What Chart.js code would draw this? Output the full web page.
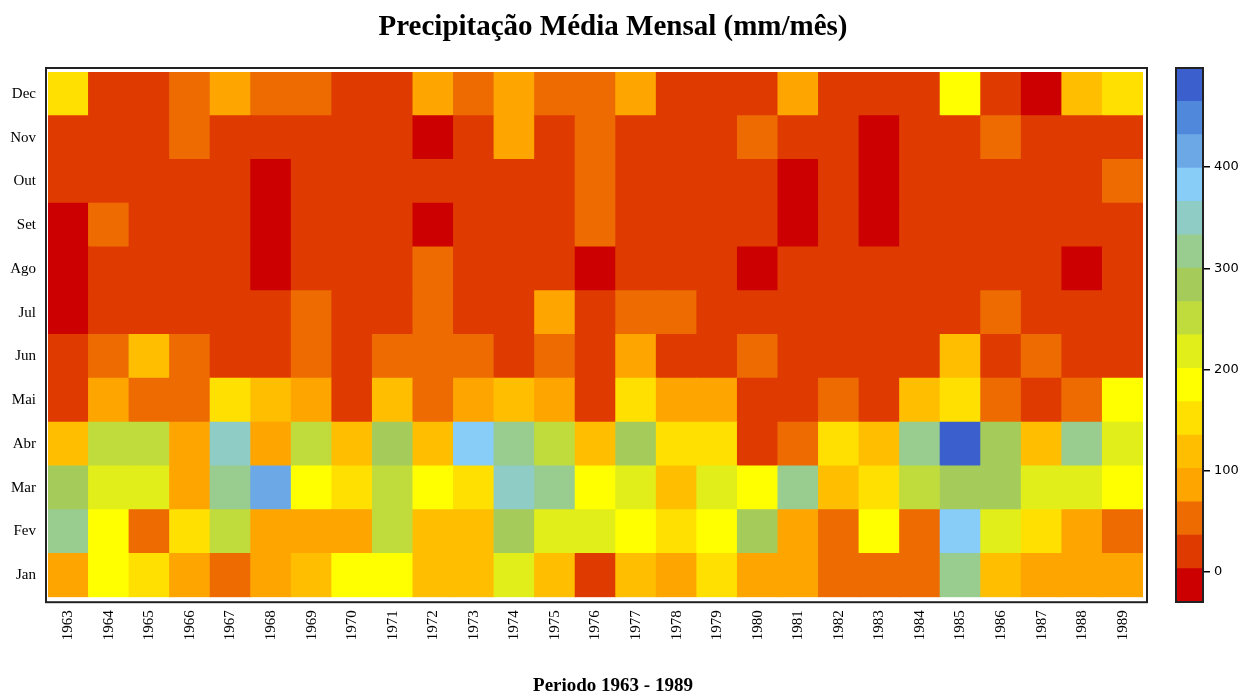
<!DOCTYPE html>
<html>
<head>
<meta charset="utf-8">
<title>Precipitação Média Mensal</title>
<script src="https://cdn.jsdelivr.net/npm/chart.js@4.4.1/dist/chart.umd.min.js"></script>
<style>
  html, body { margin: 0; padding: 0; background: #fff; }
  #wrap { position: relative; width: 1242px; height: 697px; }
  #heat { position: absolute; left: 0; top: 0; }
  #key { position: absolute; left: 1160px; top: 0; }
</style>
</head>
<body>
<div id="wrap">
  <canvas id="heat" width="1242" height="697"></canvas>
  <canvas id="key" width="82" height="697"></canvas>
</div>
<script>
// dados: precipitação média mensal (mm/mês), 1963 - 1989
const years = ['1963','1964','1965','1966','1967','1968','1969','1970','1971','1972','1973','1974','1975',
    '1976','1977','1978','1979','1980','1981','1982','1983','1984','1985','1986','1987','1988','1989'];
const months = ['Jan','Fev','Mar','Abr','Mai','Jun','Jul','Ago','Set','Out','Nov','Dec'];

const jan = [88, 182, 151, 92, 58, 84, 118, 190, 176, 124, 112, 214, 121, 27, 126, 90, 148, 95, 86, 61, 52, 55, 312, 116, 82, 91, 94];
const fev = [318, 188, 49, 147, 246, 79, 85, 97, 252, 114, 119, 281, 219, 212, 184, 154, 193, 276, 81, 57, 179, 63, 384, 222, 141, 87, 46];
const mar = [284, 217, 224, 93, 309, 415, 186, 158, 255, 181, 144, 349, 316, 192, 209, 127, 226, 174, 321, 108, 162, 244, 288, 279, 213, 221, 197];
const abr = [122, 249, 258, 96, 347, 89, 241, 113, 286, 129, 388, 305, 261, 117, 291, 143, 156, 31, 64, 159, 110, 314, 482, 273, 125, 323, 206];
const mai = [24, 83, 53, 47, 152, 115, 91, 19, 123, 59, 80, 128, 94, 14, 146, 86, 78, 22, 29, 56, 12, 111, 157, 44, 26, 51, 183];
const jun = [18, 54, 119, 48, 9, 11, 42, 15, 57, 50, 61, 21, 45, 8, 77, 20, 16, 52, 13, 7, 17, 25, 109, 28, 60, 10, 6];
const jul = [1, 13, 9, 12, 6, 8, 44, 7, 10, 46, 11, 15, 79, 9, 49, 42, 14, 8, 10, 6, 9, 7, 17, 45, 11, 7, 8];
const ago = [0, 8, 11, 7, 9, 0, 12, 6, 14, 43, 10, 9, 13, 0, 7, 11, 8, 0, 10, 12, 9, 11, 16, 8, 13, 1, 10];
const set = [2, 47, 21, 18, 16, 1, 26, 19, 22, 0, 17, 24, 20, 51, 23, 15, 28, 25, 1, 19, 0, 27, 30, 22, 18, 24, 21];
const out = [28, 25, 31, 22, 27, 2, 24, 20, 30, 19, 26, 29, 23, 55, 21, 28, 25, 32, 1, 24, 0, 30, 27, 33, 26, 29, 48];
const nov = [26, 30, 22, 52, 28, 24, 31, 27, 20, 1, 29, 84, 25, 56, 23, 30, 27, 48, 21, 26, 0, 31, 28, 53, 24, 30, 25];
const dez = [149, 22, 29, 58, 87, 50, 47, 25, 31, 82, 54, 90, 49, 62, 85, 27, 23, 30, 89, 26, 20, 28, 186, 24, 2, 117, 155];

const monthValues = [jan, fev, mar, abr, mai, jun, jul, ago, set, out, nov, dez];

// escala de cores
const levels = [-30, 3, 36, 69, 102, 135, 168, 201, 234, 267, 300, 333, 366, 399, 432, 465, 498];
const palette = ['#CC0000', '#DF3B00', '#ED6B00', '#FFA500', '#FFBF00', '#FFE000', '#FFFF00', '#E1EE19',
    '#C0DC3C', '#A5CC5A', '#99CC8F', '#8FCCC5', '#87CDF8', '#6CA8E6', '#5089DC', '#3B5FCD'];
const keyTicks = [0, 100, 200, 300, 400];

function colorFor(v) {
    for (let i = palette.length - 1; i >= 0; i--) {
        if (v >= levels[i]) return palette[i];
    }
    return palette[0];
}

const serif = "'Liberation Serif', 'Times New Roman', serif";

const framePlugin = {
    id: 'frame',
    afterDraw(chart, args, opts) {
        const { ctx, chartArea: a } = chart;
        ctx.save();
        ctx.strokeStyle = opts.color;
        ctx.lineWidth = opts.width;
        ctx.strokeRect(a.left - opts.l, a.top - opts.t, a.width + opts.l + opts.r, a.height + opts.t + opts.b);
        ctx.restore();
    }
};

new Chart(document.getElementById('heat'), {
    type: 'bar',
    data: {
        labels: years,
        datasets: monthValues.map((vals, i) => ({
            label: months[i],
            data: vals.map(() => 1),
            backgroundColor: vals.map(colorFor),
            borderWidth: 0,
            inflateAmount: 0.5,
            barPercentage: 1,
            categoryPercentage: 1
        }))
    },
    plugins: [framePlugin],
    options: {
        responsive: false,
        animation: false,
        layout: { padding: { left: 0, right: 16, top: 0, bottom: 0 } },
        plugins: {
            legend: { display: false },
            tooltip: { enabled: false },
            title: {
                display: true,
                text: 'Precipitação Média Mensal (mm/mês)',
                color: '#000',
                font: { family: serif, size: 29, weight: 'bold' },
                padding: { top: 10, bottom: 27.2 }
            },
            subtitle: {
                display: true,
                position: 'bottom',
                text: 'Periodo 1963 - 1989',
                color: '#000',
                font: { family: serif, size: 19, weight: 'bold' },
                padding: { top: 0, bottom: 0 }
            },
            frame: { color: '#222', width: 2, l: 2, t: 4, r: 4, b: 5 }
        },
        scales: {
            x: {
                stacked: true,
                grid: { display: false, drawTicks: false },
                border: { display: false },
                ticks: {
                    color: '#000',
                    font: { family: serif, size: 15 },
                    minRotation: 90,
                    maxRotation: 90,
                    autoSkip: false,
                    padding: 13
                },
                afterFit: axis => { axis.height = 77; }
            },
            y: {
                stacked: true,
                min: 0,
                max: 12,
                grid: { display: false, drawTicks: false },
                border: { display: false },
                afterBuildTicks: axis => {
                    axis.ticks = months.map((m, i) => ({ value: i + 0.5 }));
                },
                ticks: {
                    color: '#000',
                    font: { family: serif, size: 15 },
                    autoSkip: false,
                    padding: 12,
                    callback: value => months[Math.floor(value)]
                },
                afterFit: axis => { axis.width = 48; }
            },
            y2: {
                position: 'right',
                grid: { display: false, drawTicks: false },
                border: { display: false },
                ticks: { display: false },
                afterFit: axis => { axis.width = 83; }
            }
        }
    }
});

// legenda de cores
new Chart(document.getElementById('key'), {
    type: 'bar',
    data: {
        labels: [''],
        datasets: palette.map((c, i) => ({
            data: [[levels[i], levels[i + 1]]],
            backgroundColor: c,
            borderWidth: 0,
            inflateAmount: 0.5,
            grouped: false,
            barPercentage: 1,
            categoryPercentage: 1
        }))
    },
    plugins: [framePlugin],
    options: {
        responsive: false,
        animation: false,
        layout: { padding: { left: 16, right: 0, top: 68, bottom: 95 } },
        plugins: {
            legend: { display: false },
            tooltip: { enabled: false },
            frame: { color: '#222', width: 2, l: 0, t: 0, r: 0, b: 0 }
        },
        scales: {
            x: { display: false },
            y: {
                position: 'right',
                min: levels[0],
                max: levels[levels.length - 1],
                border: { display: false },
                grid: { drawOnChartArea: false, drawTicks: true, tickLength: 7, color: '#000', lineWidth: 1.5 },
                afterBuildTicks: axis => {
                    axis.ticks = keyTicks.map(v => ({ value: v }));
                },
                ticks: {
                    color: '#000',
                    font: { family: "'DejaVu Sans', sans-serif", size: 13 },
                    padding: 4
                },
                afterFit: axis => { axis.width = 39; }
            }
        }
    }
});
</script>
</body>
</html>
